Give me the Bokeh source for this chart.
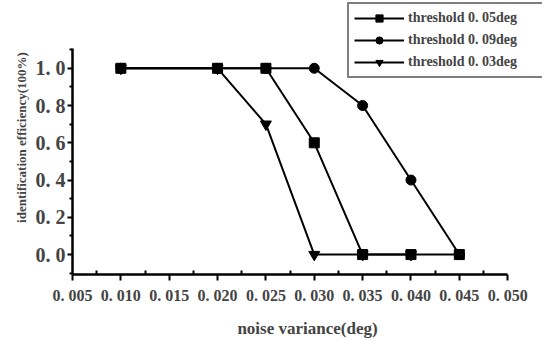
from bokeh.plotting import figure
from bokeh.models import Range1d, FixedTicker, Legend, LegendItem
from bokeh.embed import file_html
from bokeh.resources import INLINE

noise = [0.010, 0.020, 0.025, 0.030, 0.035, 0.040, 0.045]
eff_005 = [1.0, 1.0, 1.0, 0.6, 0.0, 0.0, 0.0]
eff_009 = [1.0, 1.0, 1.0, 1.0, 0.8, 0.4, 0.0]
eff_003 = [1.0, 1.0, 0.7, 0.0, 0.0, 0.0]
noise_003 = [0.010, 0.020, 0.025, 0.030, 0.035, 0.040]

x_ticks = [0.005, 0.010, 0.015, 0.020, 0.025, 0.030, 0.035, 0.040, 0.045, 0.050]
x_tick_labels = ["0. 005", "0. 010", "0. 015", "0. 020", "0. 025", "0. 030",
                 "0. 035", "0. 040", "0. 045", "0. 050"]
y_ticks = [0.0, 0.2, 0.4, 0.6, 0.8, 1.0]
y_tick_labels = ["0. 0", "0. 2", "0. 4", "0. 6", "0. 8", "1. 0"]
labels = ["threshold 0. 05deg", "threshold 0. 09deg", "threshold 0. 03deg"]

FONT = "Liberation Serif"

p = figure(width=542, height=340, output_backend="svg", toolbar_location=None,
           x_range=Range1d(0.005, 0.0536), y_range=Range1d(-0.107, 1.364),
           min_border_left=72, min_border_top=0, min_border_right=0,
           min_border_bottom=65)
p.outline_line_color = None
p.xgrid.visible = False
p.ygrid.visible = False

r1l = p.line(noise, eff_005, line_color="black", line_width=2)
r1m = p.scatter(noise, eff_005, marker="square", size=10, color="black")
r2l = p.line(noise, eff_009, line_color="black", line_width=2)
r2m = p.scatter(noise, eff_009, marker="circle", size=10, color="black")
r3l = p.line(noise_003, eff_003, line_color="black", line_width=2)
r3m = p.scatter(noise_003, eff_003, marker="inverted_triangle", size=11, color="black")

xa = p.xaxis[0]
xa.bounds = (0.005, 0.050)
xa.ticker = FixedTicker(ticks=x_ticks,
                        minor_ticks=[0.0075 + 0.005 * i for i in range(9)])
xa.major_label_overrides = {t: l for t, l in zip(x_ticks, x_tick_labels)}
xa.axis_line_width = 2.5
xa.major_tick_line_width = 2
xa.minor_tick_line_width = 2
xa.major_tick_out = 6
xa.major_tick_in = 0
xa.minor_tick_in = 4
xa.minor_tick_out = 0
xa.major_label_text_font = FONT
xa.major_label_text_font_style = "bold"
xa.major_label_text_font_size = "16px"
xa.major_label_standoff = 6
xa.axis_label = "noise variance(deg)"
xa.axis_label_text_font = FONT
xa.axis_label_text_font_style = "bold"
xa.axis_label_text_font_size = "17px"
xa.axis_label_standoff = 12

ya = p.yaxis[0]
ya.bounds = (-0.107, 1.107)
ya.ticker = FixedTicker(ticks=y_ticks,
                        minor_ticks=[-0.1, 0.1, 0.3, 0.5, 0.7, 0.9, 1.1])
ya.major_label_overrides = {t: l for t, l in zip(y_ticks, y_tick_labels)}
ya.axis_line_width = 2.5
ya.major_tick_line_width = 2
ya.minor_tick_line_width = 2
ya.major_tick_out = 5
ya.major_tick_in = 0
ya.minor_tick_out = 3
ya.minor_tick_in = 0
ya.major_label_text_font = FONT
ya.major_label_text_font_style = "bold"
ya.major_label_text_font_size = "20px"
ya.major_label_standoff = 2
ya.axis_label = "identification efficiency(100%)"
ya.axis_label_text_font = FONT
ya.axis_label_text_font_style = "bold"
ya.axis_label_text_font_size = "13px"
ya.axis_label_standoff = 4

legend = Legend(items=[
    LegendItem(label=labels[0], renderers=[r1l, r1m]),
    LegendItem(label=labels[1], renderers=[r2l, r2m]),
    LegendItem(label=labels[2], renderers=[r3l, r3m]),
], location=(275, 196))
legend.label_text_font = FONT
legend.label_text_font_style = "bold"
legend.label_text_font_size = "14px"
legend.glyph_width = 50
legend.glyph_height = 18
legend.label_height = 18
legend.label_width = 136
legend.spacing = 4
legend.padding = 5
legend.margin = 0
legend.border_line_color = "black"
legend.border_line_width = 2
legend.label_standoff = 4
p.add_layout(legend, "center")

open("out.html", "w").write(file_html(p, INLINE))
